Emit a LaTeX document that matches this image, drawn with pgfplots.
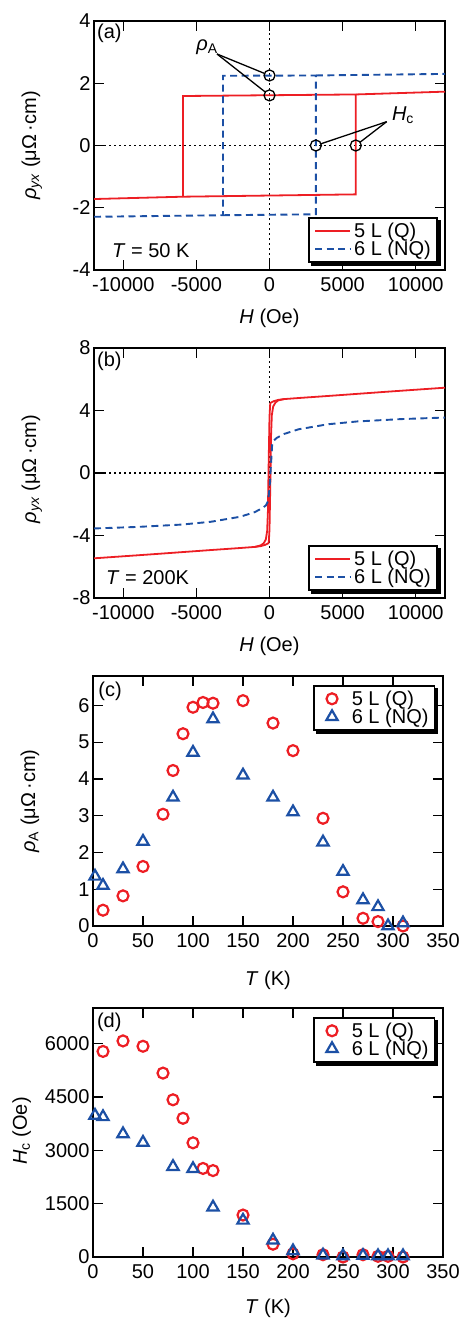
\documentclass[border=0pt]{standalone}
\usepackage{fontspec}
\setmainfont{Liberation Sans}
\usepackage{pgfplots}
\pgfplotsset{compat=1.18}
\definecolor{myred}{RGB}{237,30,36}
\definecolor{myblue}{RGB}{28,80,165}
\newcommand{\fs}{\fontsize{20}{24}\selectfont}
\newcommand{\legshadow}[1]{%
  \fill[black] ([xshift=3pt]#1.south west) rectangle ([xshift=3pt,yshift=-3pt]#1.south east);
  \fill[black] ([yshift=-3pt]#1.north east) rectangle ([xshift=3pt,yshift=-3pt]#1.south east);}
\pgfplotsset{
  myaxis/.style={
    scale only axis, anchor=north west,
    font=\fs,
    /pgf/number format/assume math mode=true,
    /pgf/number format/1000 sep={},
    scaled ticks=false,
    tick align=inside,
    major tick length=10pt,
    axis line style={line width=1.3pt},
    every tick/.style={black, line width=1.3pt},
    xticklabel style={yshift=-4pt},
    legend cell align=left,
    legend style={draw=black, line width=1.6pt, fill=white,
      font=\fs, inner xsep=5pt, inner ysep=4pt, nodes={inner sep=1pt}, row sep=0pt},
  },
  lineleg/.style={
    legend style={at={(0.979,0.03)}, anchor=south east, column sep=2pt},
    legend image code/.code={\draw[##1] (0pt,0pt) -- (35pt,0pt);},
  },
  markleg/.style={
    legend style={at={(0.978,0.964)}, anchor=north east, column sep=6pt},
    legend image code/.code={\path (0pt,0pt) (24pt,0pt); \draw[##1] plot coordinates {(12pt,0pt)};},
  },
  redline/.style={myred, line width=1.8pt},
  blueline/.style={myblue, line width=1.9pt, dash pattern=on 7pt off 4.5pt},
  zeroline/.style={black, line width=1.4pt, dash pattern=on 2.2pt off 2.8pt, forget plot},
  redmark/.style={only marks, mark=o, mark size=5.5pt, mark options={myred, line width=2.2pt}},
  bluemark/.style={only marks, mark=triangle, mark size=6.5pt, mark options={myblue, line width=2.2pt}},
}
\begin{document}
\begin{tikzpicture}
\path[use as bounding box] (0,0) rectangle (470pt,-1319pt);
% ---------------- (a)
\begin{axis}[myaxis, lineleg, at={(94pt,-21pt)}, width=351pt, height=249pt,
  legend style={name=legA},
  xmin=-12000, xmax=12000, ymin=-4, ymax=4,
  xtick={-10000,-5000,0,5000,10000}, ytick={-4,-2,0,2,4},
  xlabel={\textit{H} (Oe)}, xlabel style={at={(axis description cs:0.5,-0.193)}, anchor=center},
  ylabel={\textit{ρ}\textsubscript{\textit{yx}} (μΩ\,·cm)}, ylabel style={at={(axis description cs:-0.177,0.5)}, anchor=center},
]
\addplot[zeroline] coordinates {(-12000,0) (12000,0)};
\addplot[zeroline] coordinates {(0,-4) (0,4)};
\addplot[redline] coordinates {(-5920,-1.645) (5900,-1.57) (5900,1.64) (-5920,1.59) (-5920,-1.645)};
\addlegendentry{5 L (Q)}
\addplot[redline, forget plot] coordinates {(-12000,-1.72) (-5920,-1.645)};
\addplot[redline, forget plot] coordinates {(5900,1.64) (12000,1.73)};
\addplot[blueline] coordinates {(-3180,-2.24) (3170,-2.21) (3170,2.25) (-3180,2.24) (-3180,-2.24)};
\addlegendentry{6 L (NQ)}
\addplot[blueline, forget plot] coordinates {(-12000,-2.29) (-3180,-2.24)};
\addplot[blueline, forget plot] coordinates {(3170,2.25) (12000,2.30)};
\addplot[only marks, mark=o, mark size=5.5pt, mark options={black, line width=1.3pt}, forget plot]
  coordinates {(0,2.25) (0,1.61) (3170,0) (5900,0)};
\draw[line width=1.3pt, shorten >=5.5pt] (axis cs:-3590,2.94) -- (axis cs:0,2.25);
\draw[line width=1.3pt, shorten >=5.5pt] (axis cs:-3590,2.94) -- (axis cs:0,1.61);
\draw[line width=1.3pt, shorten >=5.5pt] (axis cs:8013,0.765) -- (axis cs:3170,0);
\draw[line width=1.3pt, shorten >=5.5pt] (axis cs:8013,0.765) -- (axis cs:5900,0);
\node at (axis cs:-4270,3.16) {\textit{ρ}\textsubscript{A}};
\node at (axis cs:9128,0.98) {\textit{H}\textsubscript{c}};
\node[anchor=west, inner sep=0pt] at (rel axis cs:0.0085,0.952) {(a)};
\node[anchor=west, inner sep=0pt] at (rel axis cs:0.051,0.076) {\textit{T} = 50 K};
\end{axis}
\legshadow{legA}
% ---------------- (b)
\begin{axis}[myaxis, lineleg, at={(94pt,-348pt)}, width=351pt, height=250pt,
  legend style={name=legB},
  xmin=-12000, xmax=12000, ymin=-8, ymax=8,
  xtick={-10000,-5000,0,5000,10000}, ytick={-8,-4,0,4,8},
  xlabel={\textit{H} (Oe)}, xlabel style={at={(axis description cs:0.5,-0.193)}, anchor=center},
  ylabel={\textit{ρ}\textsubscript{\textit{yx}} (μΩ\,·cm)}, ylabel style={at={(axis description cs:-0.177,0.516)}, anchor=center},
]
\addplot[zeroline] coordinates {(-12000,0) (12000,0)};
\addplot[zeroline] coordinates {(0,-8) (0,8)};
\addplot[redline] coordinates {(12000,5.46) (8000,5.2) (4000,4.93) (2000,4.8) (1000,4.73) (600,4.68) (300,4.6) (120,4.52) (50,4.45) (0,3.6) (-60,0.5) (-110,-2.5) (-160,-3.7) (-250,-4.25) (-400,-4.5) (-600,-4.63) (-1000,-4.73) (-2000,-4.8) (-4000,-4.93) (-8000,-5.2) (-12000,-5.46)};
\addlegendentry{5 L (Q)}
\addplot[redline, forget plot] coordinates {(-1000,-4.73) (-600,-4.68) (-300,-4.6) (-120,-4.52) (-50,-4.45) (0,-3.6) (60,-0.5) (110,2.5) (160,3.7) (250,4.25) (400,4.5) (600,4.65) (1000,4.73)};
\addplot[blueline] coordinates {(-12000,-3.55) (-9000,-3.45) (-6000,-3.3) (-4000,-3.12) (-2000,-2.8) (-1000,-2.5) (-500,-2.25) (-250,-2.08) (-100,-1.8) (0,-1.0) (100,0.5) (180,1.8) (260,2.05) (500,2.25) (1000,2.5) (2000,2.8) (4000,3.12) (6000,3.3) (9000,3.45) (12000,3.55)};
\addlegendentry{6 L (NQ)}
\node[anchor=west, inner sep=0pt] at (rel axis cs:0.0085,0.948) {(b)};
\node[anchor=west, inner sep=0pt] at (rel axis cs:0.034,0.082) {\textit{T} = 200K};
\end{axis}
\legshadow{legB}
% ---------------- (c)
\begin{axis}[myaxis, markleg, at={(93pt,-676pt)}, width=350pt, height=250pt, clip=false,
  legend style={name=legC},
  xmin=0, xmax=350, ymin=0, ymax=6.8,
  xtick={0,50,...,350}, ytick={0,1,...,6},
  xlabel={\textit{T} (K)}, xlabel style={at={(axis description cs:0.5,-0.216)}, anchor=center},
  ylabel={\textit{ρ}\textsubscript{A} (μΩ\,·cm)}, ylabel style={at={(axis description cs:-0.18,0.5)}, anchor=center},
]
\addplot[redmark] coordinates {(10,0.43) (30,0.82) (50,1.62) (70,3.04) (80,4.23) (90,5.23) (100,5.95) (110,6.08) (120,6.06) (150,6.13) (180,5.52) (200,4.77) (230,2.93) (250,0.93) (270,0.21) (285,0.12) (310,0.0)};
\addlegendentry{5 L (Q)}
\addplot[bluemark] coordinates {(2,1.35) (10,1.1) (30,1.55) (50,2.3) (80,3.5) (100,4.72) (120,5.63) (150,4.1) (180,3.5) (200,3.1) (230,2.28) (250,1.48) (270,0.71) (285,0.52) (295,0.0) (310,0.08)};
\addlegendentry{6 L (NQ)}
\node[anchor=west, inner sep=0pt] at (rel axis cs:0.015,0.937) {(c)};
\end{axis}
\legshadow{legC}
% ---------------- (d)
\begin{axis}[myaxis, markleg, at={(93pt,-1008pt)}, width=350pt, height=249pt, clip=false,
  legend style={name=legD},
  xmin=0, xmax=350, ymin=0, ymax=7000,
  xtick={0,50,...,350}, ytick={0,1500,3000,4500,6000},
  xlabel={\textit{T} (K)}, xlabel style={at={(axis description cs:0.5,-0.208)}, anchor=center},
  ylabel={\textit{H}\textsubscript{c} (Oe)}, ylabel style={at={(axis description cs:-0.204,0.506)}, anchor=center},
]
\addplot[redmark] coordinates {(10,5780) (30,6075) (50,5925) (70,5170) (80,4420) (90,3900) (100,3210) (110,2490) (120,2430) (150,1180) (180,360) (200,90) (230,65) (250,0) (270,65) (285,20) (295,20) (310,0)};
\addlegendentry{5 L (Q)}
\addplot[bluemark] coordinates {(2,3980) (10,3940) (30,3460) (50,3220) (80,2540) (100,2480) (120,1400) (150,1030) (180,470) (200,170) (230,50) (250,30) (270,40) (285,30) (295,30) (310,30)};
\addlegendentry{6 L (NQ)}
\node[anchor=west, inner sep=0pt] at (rel axis cs:0.011,0.943) {(d)};
\end{axis}
\legshadow{legD}
\end{tikzpicture}
\end{document}
